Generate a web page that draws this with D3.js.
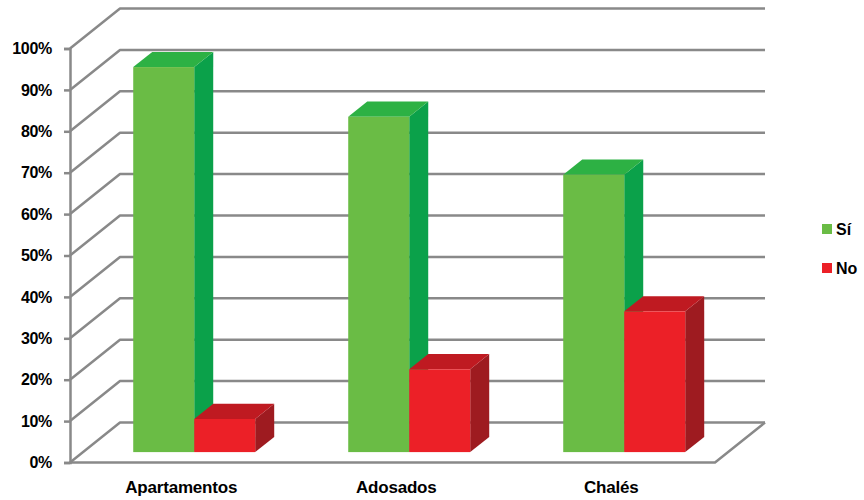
<!DOCTYPE html>
<html>
<head>
<meta charset="utf-8">
<script src="https://cdn.jsdelivr.net/npm/d3@7"></script>
<style>
  html, body { margin: 0; padding: 0; background: #fff; }
  svg { display: block; }
  text { font-family: "Liberation Sans", Arial, sans-serif; font-weight: bold; fill: #000; }
</style>
</head>
<body>
<svg id="chart" width="864" height="500"></svg>
<script>
// Survey answers by type of dwelling (percent of respondents)
const categories = ["Apartamentos", "Adosados", "Chalés"];
const seriesNames = ["Sí", "No"];
const siValues = [93, 81, 67];
const noValues = [8, 20, 34];
const tickValues = [0, 10, 20, 30, 40, 50, 60, 70, 80, 90, 100];

const seriesValues = [siValues, noValues];
const colors = {
  "Sí": { front: "#6abc45", top: "#2db144", side: "#0ba14a" },
  "No": { front: "#ec2027", top: "#bf1a21", side: "#9e1b20" }
};

const svg = d3.select("#chart");

// 3D box: front plane origin, plot width/height and depth vector
const ox = 70, oy = 462.5;
const plotW = 645, plotH = 414;
const depth = [50, -40];
const barT0 = 0.26, barT1 = 0.64;

const y = d3.scaleLinear().domain([0, 100]).range([0, plotH]);
const x = d3.scaleBand().domain(categories).range([0, plotW])
  .paddingInner(0.4326).paddingOuter(0.2163).align(0.54);
const xSub = d3.scaleBand().domain(seriesNames).range([0, x.bandwidth()]);

// project a (x, value, depth fraction) point onto the screen
function P(px, v, t) {
  return [ox + px + depth[0] * t, oy - y(v) + depth[1] * t];
}

const gridColor = "#898989";
const gridW = 2.5;
const walls = svg.append("g");

// back wall gridlines and left wall diagonals
tickValues.forEach(v => {
  const a = P(0, v, 0), b = P(0, v, 1), c = P(plotW, v, 1);
  walls.append("polyline")
    .attr("points", [a, b, c].map(p => p.join(",")).join(" "))
    .attr("fill", "none").attr("stroke", gridColor).attr("stroke-width", gridW)
    .attr("stroke-linejoin", "round");
});

// floor outline
walls.append("polyline")
  .attr("points", [P(0, 0, 0), P(plotW, 0, 0), P(plotW, 0, 1)].map(p => p.join(",")).join(" "))
  .attr("fill", "none").attr("stroke", gridColor).attr("stroke-width", gridW)
  .attr("stroke-linejoin", "round");

// value axis on the front edge of the left wall
const yAxisScale = d3.scaleLinear().domain([0, 100]).range([oy, oy - plotH]);
const yAxis = svg.append("g")
  .attr("transform", `translate(${ox},0)`)
  .call(d3.axisLeft(yAxisScale).tickValues(tickValues).tickSize(6).tickPadding(12)
    .tickFormat(d => d + "%"));
yAxis.select(".domain").attr("stroke", gridColor).attr("stroke-width", gridW);
yAxis.selectAll(".tick line").attr("stroke", gridColor).attr("stroke-width", gridW);
yAxis.selectAll(".tick text")
  .attr("font-family", "'Liberation Sans', Arial, sans-serif")
  .attr("font-weight", "bold").attr("font-size", 16).attr("letter-spacing", -0.3)
  .attr("fill", "#000");

// bars
const bars = svg.append("g");
categories.forEach((cat, i) => {
  seriesNames.forEach((s, j) => {
    const v = seriesValues[j][i];
    const x0 = x(cat) + xSub(s), x1 = x0 + xSub.bandwidth();
    const col = colors[s];
    const g = bars.append("g");
    const poly = pts => pts.map(p => p.join(",")).join(" ");
    // right side
    g.append("polygon")
      .attr("points", poly([P(x1, 0, barT0), P(x1, v, barT0), P(x1, v, barT1), P(x1, 0, barT1)]))
      .attr("fill", col.side);
    // top
    g.append("polygon")
      .attr("points", poly([P(x0, v, barT0), P(x1, v, barT0), P(x1, v, barT1), P(x0, v, barT1)]))
      .attr("fill", col.top);
    // front
    const f0 = P(x0, v, barT0), f1 = P(x1, 0, barT0);
    g.append("rect")
      .attr("x", f0[0]).attr("y", f0[1])
      .attr("width", f1[0] - f0[0]).attr("height", f1[1] - f0[1])
      .attr("fill", col.front);
  });
});

// category axis along the front edge of the floor
const xAxis = svg.append("g")
  .attr("transform", `translate(${ox},${oy})`)
  .call(d3.axisBottom(x).tickSize(0).tickPadding(18));
xAxis.select(".domain").remove();
xAxis.selectAll(".tick text")
  .attr("font-family", "'Liberation Sans', Arial, sans-serif")
  .attr("font-weight", "bold").attr("font-size", 17).attr("letter-spacing", -0.2)
  .attr("fill", "#000");

// legend
const legend = svg.append("g").attr("transform", "translate(822,224)");
seriesNames.forEach((s, j) => {
  const row = legend.append("g").attr("transform", `translate(0,${j * 39})`);
  row.append("rect").attr("width", 10).attr("height", 10).attr("fill", colors[s].front);
  row.append("text").attr("x", 14).attr("y", 11)
    .attr("font-size", 16).text(s);
});
</script>
</body>
</html>
